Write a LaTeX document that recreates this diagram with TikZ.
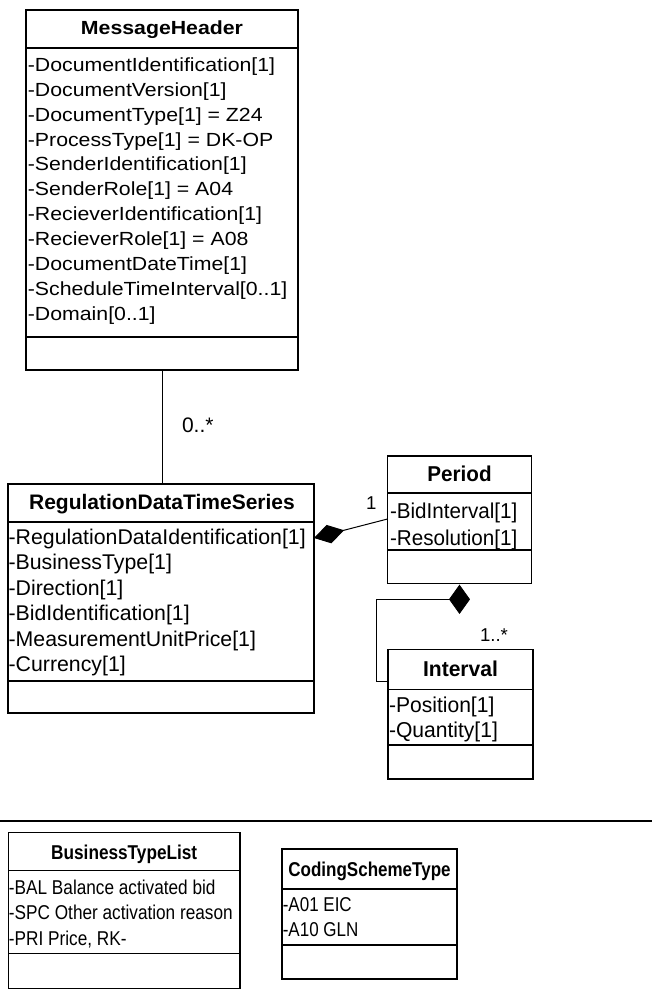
\documentclass[tikz,border=0pt]{standalone}
\usepackage{fontspec}
\setmainfont{Liberation Sans}
\newfontfamily\fMH[FakeStretch=1.12]{Liberation Sans}
\newfontfamily\fRD[FakeStretch=1.0]{Liberation Sans}
\newfontfamily\fPE[FakeStretch=0.96]{Liberation Sans}
\newfontfamily\fIV[FakeStretch=0.98]{Liberation Sans}
\newfontfamily\fBT[FakeStretch=0.86]{Liberation Sans}
\newfontfamily\fCS[FakeStretch=0.85]{Liberation Sans}
\usetikzlibrary{arrows.meta,shapes.geometric}
\tikzset{
  every node/.style={inner sep=0pt, outer sep=0pt},
  classbox/.style={draw, line width=1.3pt, rectangle, anchor=north west, inner sep=0pt, outer sep=0pt},
  sepline/.style={line width=1.3pt},
  conn/.style={line width=1pt},
  ttl/.style={anchor=base},
  attr/.style={anchor=base west},
  multlabel/.style={font=\fontsize{18.6}{20}\selectfont},
}
\begin{document}
\begin{tikzpicture}[x=1pt,y=-1pt]
\useasboundingbox (0,0) rectangle (652,990);

% ---------- MessageHeader ----------
\begin{scope}[every node/.append style={font=\fMH\fontsize{19}{20}\selectfont}]
\node[classbox, minimum width=272pt, minimum height=360pt] (mh) at (26,10) {};
\draw[sepline] (26,48) -- (298,48);
\draw[sepline] (26,337) -- (298,337);
\node[ttl] (mht) at (162,34.7) {\textbf{MessageHeader}};
\foreach \t [count=\i from 0] in {-DocumentIdentification[1],-DocumentVersion[1],-DocumentType[1] = Z24,-ProcessType[1] = DK-OP,-SenderIdentification[1],-SenderRole[1] = A04,-RecieverIdentification[1],-RecieverRole[1] = A08,-DocumentDateTime[1],-ScheduleTimeInterval[0..1],-Domain[0..1]}
  \node[attr] (mha\i) at (27.9,{71.5+24.85*\i}) {\t};
\end{scope}

% ---------- RegulationDataTimeSeries ----------
\begin{scope}[every node/.append style={font=\fRD\fontsize{21.3}{22}\selectfont}]
\node[classbox, minimum width=306pt, minimum height=229pt] (rd) at (8,484) {};
\draw[sepline] (8,522) -- (314,522);
\draw[sepline] (8,681) -- (314,681);
\node[ttl, font=\fRD\fontsize{21}{22}\selectfont] (rdt) at (162,509.3) {\textbf{RegulationDataTimeSeries}};
\foreach \t [count=\i from 0] in {-RegulationDataIdentification[1],-BusinessType[1],-Direction[1],-BidIdentification[1],-MeasurementUnitPrice[1],-Currency[1]}
  \node[attr] (rda\i) at (8.6,{544.5+25.45*\i}) {\t};
\end{scope}

% ---------- Period ----------
\begin{scope}[every node/.append style={font=\fPE\fontsize{21.5}{22}\selectfont}]
\node[classbox, minimum width=144pt, minimum height=127.5pt] (pe) at (387.5,456) {};
\draw[sepline] (387.5,493) -- (531.5,493);
\draw[sepline] (387.5,550) -- (531.5,550);
\node[ttl] (pet) at (459.5,481.7) {\textbf{Period}};
\node[attr] (pea0) at (390,518.8) {-BidInterval[1]};
\node[attr] (pea1) at (390,545.3) {-Resolution[1]};
\end{scope}

% ---------- Interval ----------
\begin{scope}[every node/.append style={font=\fIV\fontsize{21.5}{22}\selectfont}]
\node[classbox, minimum width=145pt, minimum height=129.7pt] (iv) at (388,649.3) {};
\draw[sepline] (388,689.3) -- (533,689.3);
\draw[sepline] (388,745) -- (533,745);
\node[ttl] (ivt) at (460.5,676.5) {\textbf{Interval}};
\node[attr] (iva0) at (389,712.5) {-Position[1]};
\node[attr] (iva1) at (389,737.5) {-Quantity[1]};
\end{scope}

% ---------- connectors ----------
\draw[conn] (mh.south) -- (mh.south |- rd.north);
\node[font=\fontsize{21}{22}\selectfont, anchor=base west] (lab0) at (182,432.7) {0..*};

\coordinate (rdP) at (rd.east |- 0,538);
\coordinate (peP) at (pe.west |- 0,519);
\draw[conn, {Diamond[length=31pt,width=19pt]}-] (rdP) -- (peP);
\node[multlabel, anchor=base east] (lab1) at (376.5,509) {1};

\node[diamond, draw, fill=black, line width=0.8pt, minimum width=20pt, minimum height=28pt, inner sep=0pt] (pd) at (459.5,599.3) {};
\coordinate (bend) at (376,599.3);
\draw[conn] (pd.west) -- (bend) |- (iv.west |- 0,681);
\node[multlabel, anchor=base west] (lab2) at (480,641) {1..*};

% ---------- separator line ----------
\coordinate (sepL) at (0,821);
\coordinate (sepR) at (652,821);
\draw[line width=1.4pt] (sepL) -- (sepR);

% ---------- BusinessTypeList ----------
\begin{scope}[every node/.append style={font=\fBT\fontsize{20}{20}\selectfont}]
\node[classbox, minimum width=231.7pt, minimum height=155.6pt] (bt) at (8.3,832.7) {};
\draw[sepline] (8.3,870.7) -- (240,870.7);
\draw[sepline] (8.3,953.3) -- (240,953.3);
\node[ttl] (btt) at (124.2,859.3) {\textbf{BusinessTypeList}};
\node[attr] (bta0) at (9,894) {-BAL Balance activated bid};
\node[attr] (bta1) at (9,919.5) {-SPC Other activation reason};
\node[attr] (bta2) at (9,945) {-PRI Price, RK-};
\end{scope}

% ---------- CodingSchemeType ----------
\begin{scope}[every node/.append style={font=\fCS\fontsize{20}{20}\selectfont}]
\node[classbox, minimum width=175pt, minimum height=130pt] (cs) at (282,849) {};
\draw[sepline] (282,889) -- (457,889);
\draw[sepline] (282,945) -- (457,945);
\node[ttl] (cst) at (369.5,876.7) {\textbf{CodingSchemeType}};
\node[attr] (csa0) at (282.8,911) {-A01 EIC};
\node[attr] (csa1) at (282.8,936) {-A10 GLN};
\end{scope}
\end{tikzpicture}
\end{document}
